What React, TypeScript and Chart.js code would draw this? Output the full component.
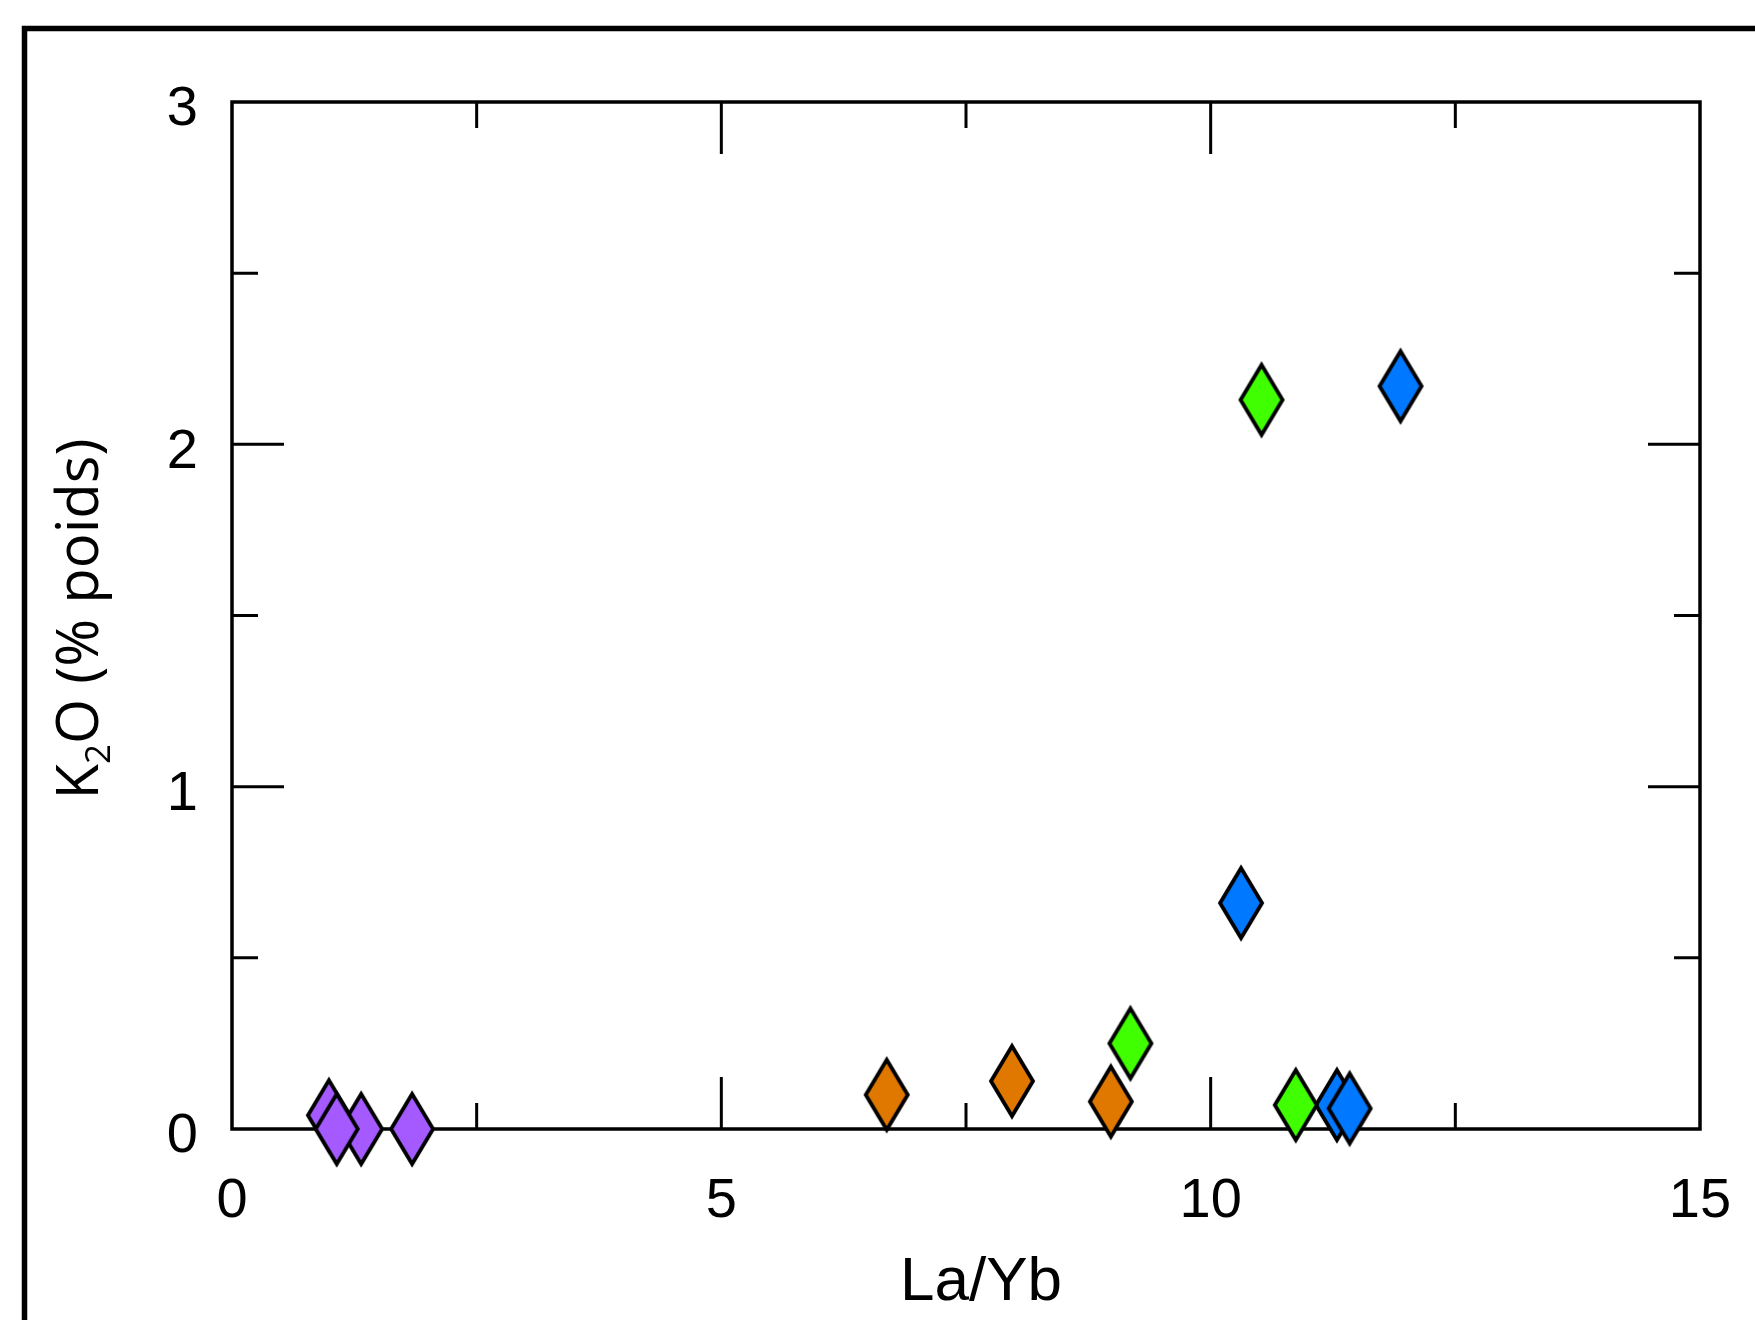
import { useEffect, useRef } from "react";
import { Chart, registerables } from "chart.js";

Chart.register(...registerables);

// ---- data ----
const purpleX = [0.99, 1.32, 1.84, 1.07];
const purpleY = [0.04, 0.0, 0.0, 0.0];
const orangeX = [6.69, 7.97, 8.98];
const orangeY = [0.1, 0.14, 0.08];
const greenX = [9.18, 10.87, 10.52];
const greenY = [0.25, 0.07, 2.13];
const blueX = [10.31, 11.29, 11.42, 11.94];
const blueY = [0.66, 0.07, 0.06, 2.17];

const xMajorTicks = [5, 10];
const xMinorTicks = [2.5, 7.5, 12.5];
const yMajorTicks = [1, 2];
const yMinorTicks = [0.5, 1.5, 2.5];

const xTitle = "La/Yb";
const yTitleMain = "K";
const yTitleSub = "2";
const yTitleRest = "O (% poids)";

const PURPLE = "#A55AFF";
const ORANGE = "#E07800";
const GREEN = "#40FF00";
const BLUE = "#0078FF";

const TICK_FONT = "'Liberation Sans', Arial, sans-serif";
const TITLE_FONT = "'Open Sans', Lato, sans-serif";

function makeDiamond(fill: string): HTMLCanvasElement {
  const c = document.createElement("canvas");
  c.width = 52;
  c.height = 84;
  const ctx = c.getContext("2d")!;
  const cx = 26, cy = 42, hw = 21, hh = 35;
  ctx.beginPath();
  ctx.moveTo(cx, cy - hh);
  ctx.lineTo(cx + hw, cy);
  ctx.lineTo(cx, cy + hh);
  ctx.lineTo(cx - hw, cy);
  ctx.closePath();
  ctx.fillStyle = fill;
  ctx.fill();
  ctx.lineWidth = 3.8;
  ctx.lineJoin = "miter";
  ctx.miterLimit = 10;
  ctx.strokeStyle = "#000";
  ctx.stroke();
  return c;
}

function zip(xs: number[], ys: number[]) {
  return xs.map((x, i) => ({ x, y: ys[i] }));
}

const decorPlugin = {
  id: "decor",
  beforeDatasetsDraw(chart: any) {
    const { ctx, chartArea: a, scales } = chart;
    const xs = scales.x;
    const ys = scales.y;
    ctx.save();
    ctx.strokeStyle = "#000";
    // outer frame
    ctx.lineWidth = 5.5;
    ctx.strokeRect(24.5, 28.5, 1800, 1400);
    // ticks (inward, both sides)
    ctx.lineWidth = 3;
    ctx.lineCap = "butt";
    const vt = (v: number, len: number) => {
      const px = xs.getPixelForValue(v);
      ctx.beginPath();
      ctx.moveTo(px, a.bottom);
      ctx.lineTo(px, a.bottom - len);
      ctx.moveTo(px, a.top);
      ctx.lineTo(px, a.top + len);
      ctx.stroke();
    };
    const ht = (v: number, len: number) => {
      const py = ys.getPixelForValue(v);
      ctx.beginPath();
      ctx.moveTo(a.left, py);
      ctx.lineTo(a.left + len, py);
      ctx.moveTo(a.right, py);
      ctx.lineTo(a.right - len, py);
      ctx.stroke();
    };
    xMajorTicks.forEach((v) => vt(v, 52));
    xMinorTicks.forEach((v) => vt(v, 26));
    yMajorTicks.forEach((v) => ht(v, 52));
    yMinorTicks.forEach((v) => ht(v, 26));
    // plot frame
    ctx.lineWidth = 3.5;
    ctx.strokeRect(a.left, a.top, a.right - a.left, a.bottom - a.top);
    ctx.restore();
  },
  afterDraw(chart: any) {
    const { ctx } = chart;
    ctx.save();
    ctx.fillStyle = "#000";
    // x title
    ctx.font = `62px ${TICK_FONT}`;
    ctx.textAlign = "center";
    ctx.textBaseline = "alphabetic";
    ctx.fillText(xTitle, 981, 1300);
    // y title (rotated, with subscript)
    ctx.translate(98, 619);
    ctx.rotate(-Math.PI / 2);
    const big = `58px ${TITLE_FONT}`;
    const small = `35px ${TITLE_FONT}`;
    ctx.font = big;
    const wK = ctx.measureText(yTitleMain).width;
    const wRest = ctx.measureText(yTitleRest).width;
    ctx.font = small;
    const w2 = ctx.measureText(yTitleSub).width;
    let x0 = -(wK + w2 + wRest) / 2;
    ctx.textAlign = "left";
    ctx.font = big;
    ctx.fillText(yTitleMain, x0, 0);
    x0 += wK;
    ctx.font = small;
    ctx.fillText(yTitleSub, x0, 12);
    x0 += w2;
    ctx.font = big;
    ctx.fillText(yTitleRest, x0, 0);
    ctx.restore();
  },
};

export default function App() {
  const ref = useRef<HTMLCanvasElement | null>(null);
  useEffect(() => {
    if (!ref.current) return;
    const mk = (label: string, xs: number[], ys: number[], color: string) => ({
      label,
      data: zip(xs, ys),
      pointStyle: makeDiamond(color),
      pointRadius: 22,
      backgroundColor: color,
      borderColor: "#000",
      showLine: false,
      clip: false as any,
    });
    const chart = new Chart(ref.current, {
      type: "scatter",
      data: {
        datasets: [
          mk("purple", purpleX, purpleY, PURPLE),
          mk("green", greenX, greenY, GREEN),
          mk("blue", blueX, blueY, BLUE),
          mk("orange", orangeX, orangeY, ORANGE),
        ],
      },
      options: {
        responsive: false,
        maintainAspectRatio: false,
        animation: false,
        events: [],
        layout: { padding: { left: 0, top: 102, right: 55, bottom: 0 } },
        plugins: { legend: { display: false }, tooltip: { enabled: false } },
        scales: {
          x: {
            type: "linear",
            min: 0,
            max: 15,
            grid: { display: false, drawTicks: false },
            border: { display: false },
            ticks: {
              stepSize: 5,
              padding: 0,
              color: "#000",
              maxRotation: 0,
              autoSkip: false,
              font: { family: TICK_FONT, size: 56, lineHeight: "146px" },
            },
            afterFit: (s: any) => {
              s.height = 191;
            },
          },
          y: {
            type: "linear",
            min: 0,
            max: 3,
            grid: { display: false, drawTicks: false },
            border: { display: false },
            ticks: {
              stepSize: 1,
              padding: 34,
              labelOffset: 8,
              color: "#000",
              autoSkip: false,
              font: { family: TICK_FONT, size: 56 },
            },
            afterFit: (s: any) => {
              s.width = 232;
            },
          },
        },
      } as any,
      plugins: [decorPlugin],
    });
    return () => chart.destroy();
  }, []);
  return (
    <div style={{ position: "absolute", left: 0, top: 0, width: 1755, height: 1320, background: "#fff" }}>
      <canvas ref={ref} width={1755} height={1320} style={{ display: "block", width: 1755, height: 1320 }} />
    </div>
  );
}
